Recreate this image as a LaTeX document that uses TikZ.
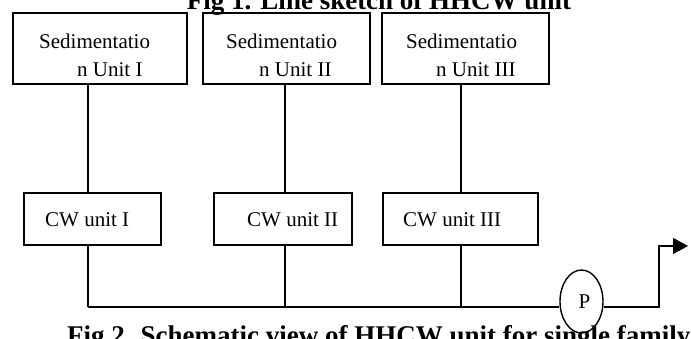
\documentclass[tikz,border=0pt]{standalone}
\usepackage{fontspec}
\setmainfont{Liberation Serif}
\usetikzlibrary{shapes.geometric,arrows.meta}
\tikzset{
  unitbox/.style={draw, line width=1.5pt, rectangle, inner sep=0pt},
  lbl/.style={anchor=base west, inner sep=0pt, font=\fontsize{21}{25}\selectfont},
  capt/.style={inner sep=0pt, font=\bfseries\fontsize{27}{30}\selectfont},
  pipe/.style={line width=1.4pt},
  arr/.style={line width=1.4pt, -{Triangle[length=15pt,width=16pt]}}
}
\begin{document}
\begin{tikzpicture}[x=1pt,y=-1pt]
\useasboundingbox (0,0) rectangle (691,338);
% captions
\node[capt, anchor=base] (t1) at (379,9) {Fig 1. Line sketch of HHCW unit};
\node[capt, anchor=base west] (t2) at (67,344) {Fig 2. Schematic view of HHCW unit for single family};
% sedimentation boxes
\node[unitbox, minimum width=174pt, minimum height=71pt] (s1) at (100,48.5) {};
\node[unitbox, minimum width=167pt, minimum height=71pt] (s2) at (286.5,48.5) {};
\node[unitbox, minimum width=167pt, minimum height=71pt] (s3) at (465.5,48.5) {};
\node[lbl] (s1a) at (39,48) {Sedimentatio};
\node[lbl] (s1b) at (77,76) {n Unit I};
\node[lbl] (s2a) at (226,48) {Sedimentatio};
\node[lbl] (s2b) at (259,76) {n Unit II};
\node[lbl] (s3a) at (406,48) {Sedimentatio};
\node[lbl] (s3b) at (436,76) {n Unit III};
% CW boxes
\node[unitbox, minimum width=137pt, minimum height=52pt] (c1) at (92.5,219) {};
\node[unitbox, minimum width=138pt, minimum height=52pt] (c2) at (283,219) {};
\node[unitbox, minimum width=155pt, minimum height=52pt] (c3) at (460.5,219) {};
\node[lbl] (c1a) at (45,226) {CW unit I};
\node[lbl] (c2a) at (247,226) {CW unit II};
\node[lbl] (c3a) at (403,226) {CW unit III};
% pump
\node[draw, ellipse, line width=1.4pt, minimum width=43pt, minimum height=63pt, inner sep=0pt,
      font=\fontsize{21}{25}\selectfont] (p) at (581.5,301.5) {\hspace*{6pt}P};
% junctions
\coordinate (j1) at (88,307);
\coordinate (j2) at (285,307);
\coordinate (j3) at (461,307);
\coordinate (k) at (659,307);
\coordinate (o) at (688,246);
% connectors
\draw[pipe] (j1 |- s1.south) -- (j1 |- c1.north);
\draw[pipe] (j2 |- s2.south) -- (j2 |- c2.north);
\draw[pipe] (j3 |- s3.south) -- (j3 |- c3.north);
\draw[pipe] (j1 |- c1.south) -- (j1);
\draw[pipe] (j2 |- c2.south) -- (j2);
\draw[pipe] (j3 |- c3.south) -- (j3);
\draw[pipe] (j1) -- (j1 -| p.west);
\draw[arr] (k -| p.east) -- (k) |- (o);
\end{tikzpicture}
\end{document}
